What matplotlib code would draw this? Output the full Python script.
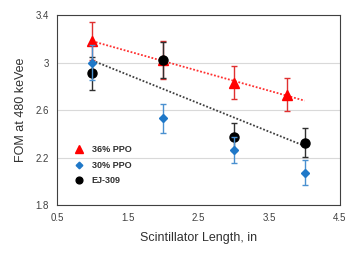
import numpy as np
import matplotlib.pyplot as plt

plt.rcParams["font.family"] = ["Liberation Sans", "DejaVu Sans"]

# 36% PPO
ppo36_x = [1.0, 2.0, 3.0, 3.75]
ppo36_y = [3.18, 3.02, 2.83, 2.73]
ppo36_err = [0.16, 0.16, 0.14, 0.14]

# 30% PPO
ppo30_x = [1.0, 2.0, 3.0, 4.0]
ppo30_y = [3.00, 2.53, 2.26, 2.07]
ppo30_err = [0.15, 0.125, 0.11, 0.105]

# EJ-309
ej_x = [1.0, 2.0, 3.0, 4.0]
ej_y = [2.91, 3.02, 2.375, 2.325]
ej_err = [0.14, 0.15, 0.12, 0.12]

fig = plt.figure(figsize=(3.56, 2.6), dpi=100)
ax = fig.add_axes([0.160, 0.2115, 0.795, 0.7305])

# linear trendlines
xs = np.array([1.0, 4.0])
p_red = np.polyfit(ppo36_x, ppo36_y, 1)
ax.plot(xs, np.polyval(p_red, xs), linestyle=(0, (1, 1)), color="#FF3030", linewidth=1.3, zorder=2)
p_blk = np.polyfit(ej_x, ej_y, 1)
ax.plot(xs, np.polyval(p_blk, xs), linestyle=(0, (1, 1)), color="#404040", linewidth=1.3, zorder=2)

ax.errorbar(ppo36_x, ppo36_y, yerr=ppo36_err, fmt="^", color="#FF0000", ecolor="#E03030",
            markersize=7, capsize=2, elinewidth=1, capthick=1, label="36% PPO", zorder=3)
ax.errorbar(ej_x, ej_y, yerr=ej_err, fmt="o", color="black", ecolor="#303030",
            markersize=6.5, capsize=2, elinewidth=1, capthick=1, label="EJ-309", zorder=4)
ax.errorbar(ppo30_x, ppo30_y, yerr=ppo30_err, fmt="D", color="#1F78C8", ecolor="#4A90D0",
            markersize=4.5, capsize=2, elinewidth=1, capthick=1, label="30% PPO", zorder=5)

ax.set_xlim(0.5, 4.5)
ax.set_ylim(1.8, 3.4)
ax.set_xticks([0.5, 1.5, 2.5, 3.5, 4.5])
ax.set_xticklabels(["0.5", "1.5", "2.5", "3.5", "4.5"])
ax.set_yticks([1.8, 2.2, 2.6, 3.0, 3.4])
ax.set_yticklabels(["1.8", "2.2", "2.6", "3", "3.4"])
ax.tick_params(length=0, labelsize=7, colors="#404040", pad=6)
ax.yaxis.grid(True, color="#D9D9D9", linewidth=0.8)
ax.set_axisbelow(True)
for s in ax.spines.values():
    s.set_color("#404040")
    s.set_linewidth(0.8)

ax.set_xlabel("Scintillator Length, in", fontsize=9, color="#303030", labelpad=6)
ax.set_ylabel("FOM at 480 keVee", fontsize=9, color="#303030", labelpad=6)

handles, labels = ax.get_legend_handles_labels()
order = [0, 2, 1]
handles = [h[0] for h in handles]
leg = ax.legend([handles[i] for i in order], [labels[i] for i in order],
                loc="lower left", bbox_to_anchor=(0.03, 0.06), frameon=False,
                prop={"size": 6.5, "weight": "bold"}, handletextpad=0.8,
                labelspacing=0.75, handlelength=1.2, markerscale=0.75)
for t in leg.get_texts():
    t.set_color("#303030")

fig.savefig("out.png", dpi=100)
